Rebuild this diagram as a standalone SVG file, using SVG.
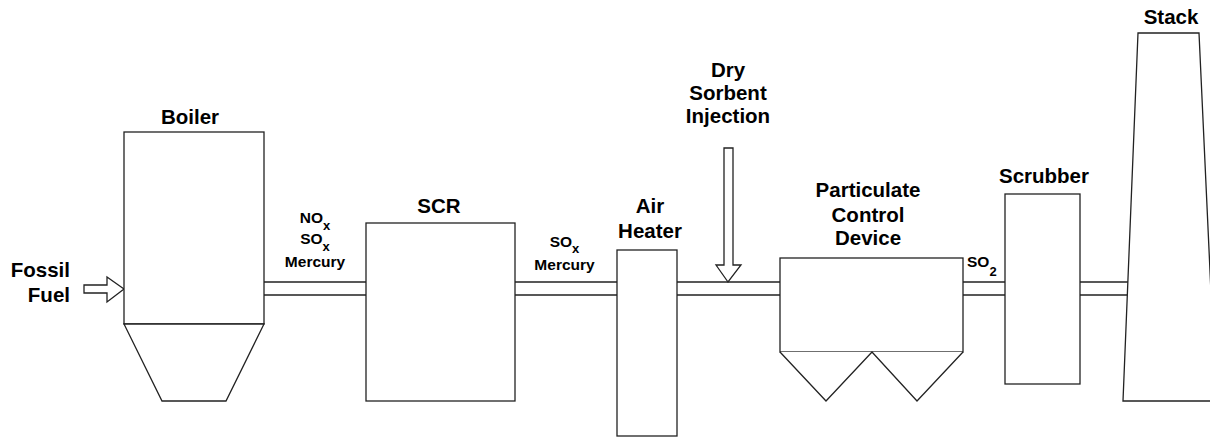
<svg xmlns="http://www.w3.org/2000/svg" width="1210" height="437" viewBox="0 0 1210 437">
<style>
.s{fill:#fff;stroke:#222;stroke-width:1.3}
.p{stroke:#222;stroke-width:1.3;fill:none}
.t{font-family:"Liberation Sans",Arial,Helvetica,sans-serif;font-weight:bold;font-size:20.5px;fill:#000;text-anchor:middle}
.m{font-family:"Liberation Sans",Arial,Helvetica,sans-serif;font-weight:bold;font-size:15.5px;fill:#000;text-anchor:middle}
.sub{font-size:13px}
</style>
<rect width="1210" height="437" fill="#fff"/>
<g id="connectors">
<path class="p" d="M264,282H366M264,295H366"/>
<path class="p" d="M515,282H617M515,295H617"/>
<path class="p" d="M677,282H780M677,295H780"/>
<path class="p" d="M963,282H1005M963,295H1005"/>
<path class="p" d="M1080,282H1129M1080,295H1128"/>
<polygon id="fuel-arrow" class="s" points="84,285 107,285 107,277 124,289 107,302 107,293 84,293"/>
<polygon id="dsi-arrow" class="s" points="724,148 733,148 733,265 741,265 728,282 716,265 724,265"/>
</g>
<g id="fossil-fuel">
<text class="t" x="70" y="277" style="text-anchor:end">Fossil</text>
<text class="t" x="70" y="302" style="text-anchor:end">Fuel</text>
</g>
<g id="boiler">
<rect class="s" x="124" y="132" width="140" height="192"/>
<polygon class="s" points="124,324 264,324 226,401 162,401"/>
<text class="t" x="190" y="124">Boiler</text>
</g>
<g id="label-nox">
<text class="m" x="315" y="223">NO<tspan class="sub" dy="6.5">x</tspan></text>
<text class="m" x="315" y="244">SO<tspan class="sub" dy="6.5">x</tspan></text>
<text class="m" x="315" y="267">Mercury</text>
</g>
<g id="scr">
<rect class="s" x="366" y="223" width="149" height="178"/>
<text class="t" x="439" y="213">SCR</text>
</g>
<g id="label-sox">
<text class="m" x="564.5" y="246.5">SO<tspan class="sub" dy="6.5">x</tspan></text>
<text class="m" x="564.5" y="270">Mercury</text>
</g>
<g id="air-heater">
<rect class="s" x="617" y="250" width="60" height="186"/>
<text class="t" x="650" y="213">Air</text>
<text class="t" x="650" y="238">Heater</text>
</g>
<g id="dry-sorbent-injection">
<text class="t" x="728" y="77">Dry</text>
<text class="t" x="728" y="100">Sorbent</text>
<text class="t" x="728" y="123">Injection</text>
</g>
<g id="particulate-control-device">
<rect class="s" x="780" y="258" width="183" height="94"/>
<polyline class="s" points="780,352 826,401 872,352 917,401 963,352"/>
<text class="t" x="868" y="197">Particulate</text>
<text class="t" x="868" y="222">Control</text>
<text class="t" x="868" y="245">Device</text>
</g>
<g id="label-so2">
<text class="m" x="967" y="267" style="text-anchor:start">SO<tspan class="sub" dy="8.5">2</tspan></text>
</g>
<g id="scrubber">
<rect class="s" x="1005" y="194" width="75" height="190"/>
<text class="t" x="1044" y="183">Scrubber</text>
</g>
<g id="stack">
<polygon class="s" points="1138,33 1199,33 1216,401 1123,401"/>
<text class="t" x="1171" y="24">Stack</text>
</g>
</svg>
